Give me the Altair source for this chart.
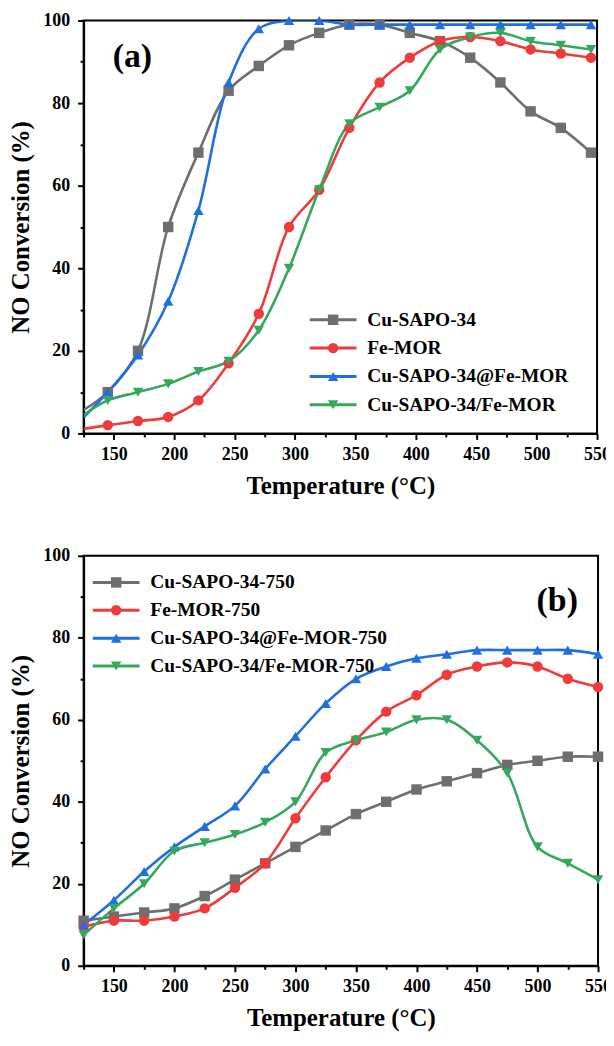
import altair as alt
import pandas as pd

# ---------------- data ----------------
T_a = [145, 170, 195, 220, 245, 270, 295, 320, 345, 370, 395, 420, 445, 470, 495, 520, 545]
names_a = ["Cu-SAPO-34", "Fe-MOR", "Cu-SAPO-34@Fe-MOR", "Cu-SAPO-34/Fe-MOR"]
cu_a = [10, 20, 50, 68, 83, 89, 94, 97, 99, 99, 97, 95, 91, 85, 78, 74, 68]
fe_a = [2, 3, 4, 8, 17, 29, 50, 59, 74, 85, 91, 95, 96, 95, 93, 92, 91]
core_a = [10, 19, 32, 54, 85, 98, 100, 100, 99, 99, 99, 99, 99, 99, 99, 99, 99]
mix_a = [8, 10, 12, 15, 17.5, 25, 40, 59, 75, 79, 83, 93, 96, 97, 95, 94, 93]
start_T_a = 125
start_a = [5.7, 1.1, 3.9, 4.5]   # curve values at the left edge (no marker)

T_b = [125, 150, 175, 200, 225, 250, 275, 300, 325, 350, 375, 400, 425, 450, 475, 500, 525, 550]
names_b = ["Cu-SAPO-34-750", "Fe-MOR-750", "Cu-SAPO-34@Fe-MOR-750", "Cu-SAPO-34/Fe-MOR-750"]
cu_b = [11, 12, 13, 14, 17, 21, 25, 29, 33, 37, 40, 43, 45, 47, 49, 50, 51, 51]
fe_b = [9.5, 11, 11, 12, 14, 19, 25, 36, 46, 55, 62, 66, 71, 73, 74, 73, 70, 68]
core_b = [10, 16, 23, 29, 34, 39, 48, 56, 64, 70, 73, 75, 76, 77, 77, 77, 77, 76]
mix_b = [7.5, 14, 20, 28, 30, 32, 35, 40, 52, 55, 57, 60, 60, 55, 47, 29, 25, 21]

panel_labels = ["(a)", "(b)"]
x_title = "Temperature (°C)"
y_title = "NO Conversion (%)"

# ---------------- styles ----------------
COLORS = ["#6E6E6E", "#EE3B3B", "#1F6FE0", "#35A85E"]
SHAPES = ["square", "circle", "triangle-up", "triangle-down"]
FONT = "Liberation Serif"
SYM = 110
LINE_PATH = "M-4.48,0H4.48"


def build(T, series, names, start_T=None, start=None):
    rows = []
    for i, (nm, vals) in enumerate(zip(names, series)):
        if start is not None:
            rows.append(dict(T=start_T, v=start[i], series=nm, name=nm + " ", mk=False))
        for t, v in zip(T, vals):
            rows.append(dict(T=t, v=v, series=nm, name=nm + " ", mk=True))
    return pd.DataFrame(rows)


df_a = build(T_a, [cu_a, fe_a, core_a, mix_a], names_a, start_T_a, start_a)
df_b = build(T_b, [cu_b, fe_b, core_b, mix_b], names_b)

x_axis = alt.Axis(
    values=list(range(125, 551, 25)),
    labelExpr="datum.value % 50 === 0 ? datum.label : ''",
    tickSize={"condition": {"test": "datum.value % 50 === 0", "value": 6}, "value": 3.5},
    labelOverlap=False, labelFlush=False, grid=False,
    title=x_title, labelPadding=6, titlePadding=10,
)
y_axis = alt.Axis(
    values=list(range(0, 101, 10)),
    labelExpr="datum.value % 20 === 0 ? datum.label : ''",
    tickSize={"condition": {"test": "datum.value % 20 === 0", "value": 6}, "value": 3.5},
    labelOverlap=False, labelFlush=False, grid=False,
    title=y_title, labelPadding=8, titlePadding=9,
)


def panel(df, names, label, w, h, leg_x, leg_y, label_x, label_y, row_pad):
    x = alt.X("T:Q", scale=alt.Scale(domain=[125, 550], nice=False), axis=x_axis)
    y = alt.Y("v:Q", scale=alt.Scale(domain=[0, 100], nice=False), axis=y_axis)
    common_leg = dict(
        title=None, orient="none", padding=0, symbolSize=SYM,
        labelFont=FONT, labelFontSize=19.5, labelFontWeight="bold",
        rowPadding=row_pad, labelOffset=24.5, labelLimit=400,
        legendX=leg_x, legendY=leg_y,
    )
    lines = alt.Chart(df).mark_line(interpolate="catmull-rom", strokeWidth=2.6, clip=True).encode(
        x=x, y=y,
        stroke=alt.Stroke("name:N", scale=alt.Scale(domain=[n + " " for n in names], range=COLORS),
                          legend=alt.Legend(symbolType=LINE_PATH, symbolStrokeWidth=3,
                                            labelColor="black", **common_leg)),
    )
    pleg = alt.Legend(symbolStrokeWidth=0, symbolOpacity=1, labelColor="transparent", **common_leg)
    points = alt.Chart(df).transform_filter("datum.mk").mark_point(
        filled=True, size=SYM, opacity=1, strokeWidth=0
    ).encode(
        x=x, y=y,
        fill=alt.Fill("series:N", scale=alt.Scale(domain=names, range=COLORS), legend=pleg),
        shape=alt.Shape("series:N", scale=alt.Scale(domain=names, range=SHAPES), legend=pleg),
    )
    txt = alt.Chart(alt.Data(values=[{"lab": label}])).mark_text(
        font=FONT, fontSize=34, fontWeight="bold", color="black", align="center", baseline="middle"
    ).encode(x=alt.value(label_x), y=alt.value(label_y), text="lab:N")
    return alt.layer(lines, points, txt).properties(width=w, height=h)


pa = panel(df_a, names_a, panel_labels[0], 516, 415, 241, 291, 49, 37, 7.5)
pb = panel(df_b, names_b, panel_labels[1], 517, 412, 23, 17, 476, 45, 7)

chart = alt.vconcat(pa, pb, spacing=47).resolve_scale(
    stroke="independent", fill="independent", shape="independent"
).properties(
    padding={"left": 0, "top": 0, "right": -7, "bottom": 0},
    background="white",
).configure_view(
    stroke="black", strokeWidth=2
).configure_axis(
    domainColor="black", domainWidth=2, tickColor="black", tickWidth=2,
    labelFont=FONT, labelFontSize=18, labelFontWeight="bold", labelColor="black",
    titleFont=FONT, titleFontSize=25, titleFontWeight="bold", titleColor="black",
)

chart.save("out.html", embed_options={"renderer": "svg", "actions": False})
